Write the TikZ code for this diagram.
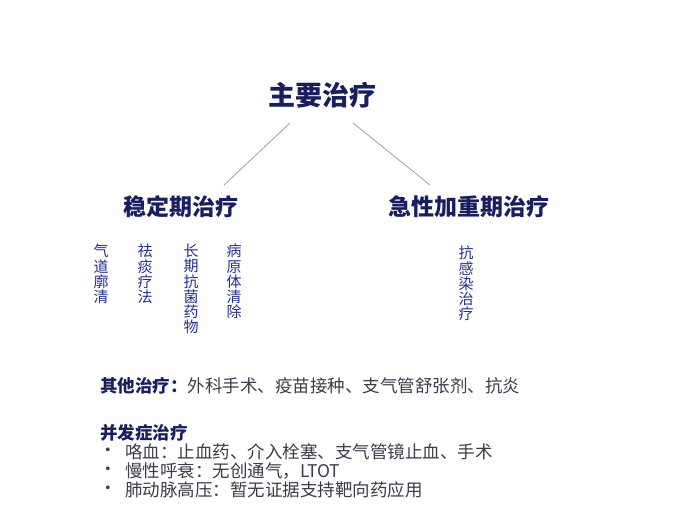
\documentclass[tikz,border=0pt]{standalone}
\usepackage{fontspec}
\setmainfont{Noto Sans CJK SC}
\definecolor{navy}{RGB}{24,30,96}
\definecolor{vblue}{RGB}{38,48,140}
\definecolor{bodyc}{RGB}{60,60,75}
\newcommand\myvtight{\lineskiplimit=-30pt\relax\lineskip=0pt\relax}
\begin{document}
\begin{tikzpicture}[x=1pt,y=-1pt]
\useasboundingbox (0,0) rectangle (676,515);
\fill[white] (0,0) rectangle (676,515);
\tikzset{
 head/.style={font=\bfseries\fontsize{27}{30}\selectfont, text=navy, inner sep=0pt},
 sub/.style={font=\bfseries\fontsize{23}{26}\selectfont, text=navy, inner sep=0pt},
 vert/.style={font=\fontsize{15}{15.2}\selectfont\myvtight, text=vblue, align=center, anchor=north, inner sep=0pt},
 body/.style={font=\fontsize{17.5}{20}\selectfont, text=bodyc, anchor=west, inner sep=0pt},
 bodyhead/.style={body, font=\bfseries\fontsize{17.5}{20}\selectfont, text=navy},
 link/.style={draw=gray!75, line width=0.8pt}
}
\node[head] (main) at (322,95) {主要治疗};
\node[sub] (stable) at (181,207) {稳定期治疗};
\node[sub] (acute) at (469,207) {急性加重期治疗};
\coordinate (mL) at (290,123);
\coordinate (mR) at (353,123);
\coordinate (sT) at (224,185);
\coordinate (aT) at (430,185);
\draw[link] (mL) -- (sT);
\draw[link] (mR) -- (aT);
\node[vert] (v1) at (101,244) {气\\道\\廓\\清};
\node[vert] (v2) at (145,244) {祛\\痰\\疗\\法};
\node[vert] (v3) at (191,244) {长\\期\\抗\\菌\\药\\物};
\node[vert] (v4) at (234,244) {病\\原\\体\\清\\除};
\node[vert] (v5) at (466,246) {抗\\感\\染\\治\\疗};
\node[body] (other) at (100,386) {\textbf{\color{navy}其他治疗：}外科手术、疫苗接种、支气管舒张剂、抗炎};
\node[bodyhead] (comp) at (100,433) {并发症治疗};
\node[body] (d1) at (99,452) {•};
\node[body] (b1) at (125,452) {咯血：止血药、介入栓塞、支气管镜止血、手术};
\node[body] (d2) at (99,471) {•};
\node[body] (b2) at (125,471) {慢性呼衰：无创通气，LTOT};
\node[body] (d3) at (99,490) {•};
\node[body] (b3) at (125,490) {肺动脉高压：暂无证据支持靶向药应用};
\end{tikzpicture}
\end{document}
